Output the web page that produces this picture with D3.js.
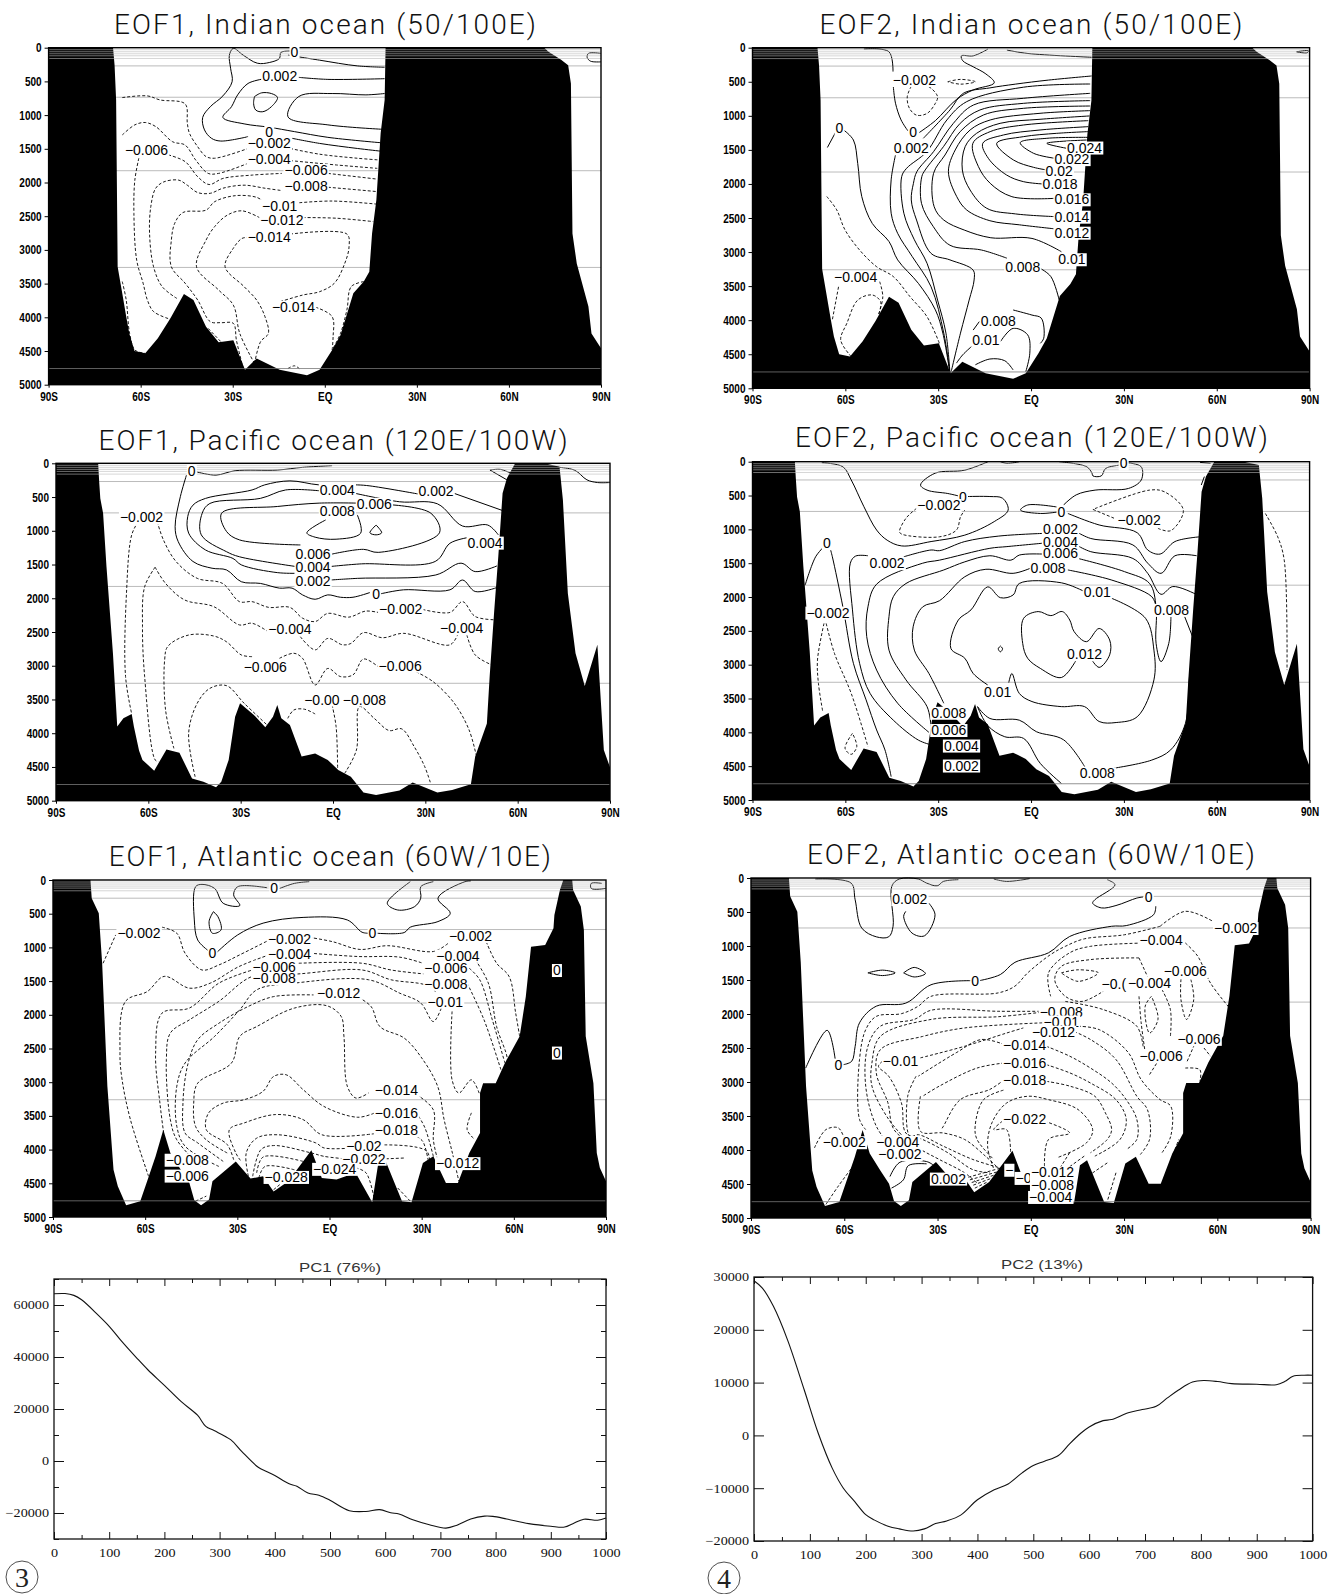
<!DOCTYPE html>
<html>
<head>
<meta charset="utf-8">
<script src="https://cdn.jsdelivr.net/npm/d3@7"></script>
<style>
  html, body { margin: 0; background: #fff; }
  svg { display: block; }
</style>
</head>
<body>
<svg id="chart" width="1342" height="1594"></svg>
<script>
// ocean floor along each section: [lat, depth]
var indianFloor = [[-90,0],[-69,0],[-68.5,260],[-68,775],[-67.5,3250],[-66,3645],[-64.7,3990],[-63.7,4240],[-62,4500],[-58.5,4535],[-54.4,4310],[-50.3,4015],[-45.9,3655],[-42.8,3745],[-38.7,4140],[-34.6,4370],[-29.8,4340],[-26,4780],[-22.2,4610],[-14.7,4780],[-5.8,4860],[-1.7,4780],[2.4,4485],[5.1,4265],[9.3,3645],[12.7,3470],[14.5,3325],[15.4,2755],[16.8,2260],[18.2,1270],[19.5,775],[19.8,0],[71.5,0],[72.9,60],[77,180],[79.3,260],[80.2,530],[80.7,2755],[82.1,3200],[85.9,3840],[86.9,4240],[90,4460]];
var pacificFloor = [[-90,0],[-76.3,0],[-76,250],[-75.6,520],[-74.7,740],[-73.6,1530],[-71.5,2815],[-70.1,3900],[-68.1,3780],[-65.4,3715],[-64.7,3900],[-63,4260],[-61.9,4395],[-58.1,4555],[-54.1,4240],[-49.9,4290],[-45.8,4670],[-42.1,4720],[-38,4800],[-36.3,4720],[-33.9,4395],[-31.8,3755],[-30.2,3555],[-25.7,3730],[-22,3910],[-19.5,3755],[-18.1,3580],[-16.8,3780],[-14,3880],[-10.2,4345],[-5.8,4300],[-1.7,4395],[1.7,4545],[5.8,4645],[9.9,4880],[14,4915],[21.6,4850],[25.9,4730],[33.9,4880],[38.7,4840],[44.8,4755],[46.2,4345],[50,3855],[50.9,3160],[52.4,2175],[53.7,1385],[55.1,445],[56.5,220],[59.2,0],[68.8,0],[73.6,50],[74.7,545],[76.3,1925],[78.8,2815],[81.8,3300],[85.9,2690],[88,4250],[90,4505]];
var atlanticFloor = [[-90,0],[-77.8,0],[-77.4,270],[-75.1,495],[-74,1235],[-72.3,3060],[-70.3,4300],[-68.9,4545],[-66.2,4825],[-61.6,4765],[-59,4420],[-56.6,4100],[-54.1,3705],[-51.8,4050],[-48.4,4300],[-45.6,4495],[-44,4750],[-41.8,4825],[-39.2,4740],[-38.1,4470],[-30.5,4175],[-25.7,4430],[-21.6,4395],[-18.2,4620],[-13.4,4470],[-5.9,4010],[-2.5,4420],[2.3,4445],[8.5,4345],[13.9,4780],[15.8,4225],[18.1,4150],[23.6,4765],[26.7,4780],[30.4,4200],[33.8,4100],[37.9,4495],[41.8,4495],[45.5,4050],[49,3755],[49,3160],[50,3015],[54.1,3015],[57.1,2715],[61.9,2320],[63.9,1730],[65.6,990],[70.2,965],[72.9,715],[73.2,520],[75,150],[76.1,0],[79,0],[79.3,150],[81.8,395],[82.8,740],[83.4,2320],[85.9,3015],[87,4050],[88,4270],[90,4470]];

// contours: Pos are the solid ones (zero and above), Neg the dashed ones
var indianEof1Pos = [
  [[-11.3,50],[-14.3,70],[-14.8,160],[-18.1,220],[-22,230],[-26.6,110],[-29.8,10],[-31.1,110],[-30.7,305],[-30.2,505],[-33.2,715],[-37.3,875],[-39.8,1035],[-39.2,1220],[-36.9,1345],[-33.9,1385],[-25,1320]],
  [[-10.6,1345],[-1.7,1420],[10.6,1495],[18.2,1535]],
  [[-12,110],[-1.7,185],[10.6,270],[19.5,290]],
  [[-20.2,465],[-25,530],[-28.4,700],[-30.4,875],[-33.2,1035],[-26.3,1130],[-18.1,1180],[-9.9,1245],[1,1330],[18.2,1410]],
  [[-8.5,440],[1,470],[19.5,460]],
  [[19.5,680],[13.4,700],[2.4,680],[-8.5,725],[-12,1025],[1,1145],[18.6,1210]],
  [[-22.9,725],[-20.6,670],[-17.4,680],[-15.4,740],[-17.4,875],[-20.2,950],[-22.5,925],[-23.2,825],[-22.9,725]],
  [[90,85],[85.9,85],[85.5,145],[86.6,200],[90,210]]
];
var indianEof1Neg = [
  [[-66,740],[-57.8,715],[-53.7,775],[-45.5,835],[-44.8,1120],[-44.1,1270],[-41.4,1470],[-38.7,1615],[-35.9,1640],[-25,1495]],
  [[-11.3,1495],[-1.7,1580],[10.6,1640],[17.5,1665]],
  [[-66,1295],[-61.9,1145],[-58.5,1110],[-55.1,1170],[-49.6,1395],[-45.5,1445],[-42.1,1665],[-38,1865],[-34.6,1865],[-25,1715]],
  [[-11.3,1675],[3.8,1740],[17.1,1790]],
  [[-51,1590],[-45.5,1690],[-41.4,1915],[-37.7,2030],[-33.2,1940],[-23.6,1890],[-14,1865]],
  [[1,1865],[17.1,1950]],
  [[-60.6,1640],[-61.9,1965],[-62.2,2460],[-61.3,3150],[-59.2,3495],[-57.8,3745],[-55.8,3915],[-50.3,4030]],
  [[-48.2,3720],[-53,3545],[-55.8,3250],[-57.1,2755],[-56.7,2360],[-55.1,2085],[-52.4,1990],[-47.6,1965],[-44.8,2040],[-41.4,2150],[-37.3,2160],[-33.2,2085],[-26.3,2040],[-19.5,2085],[-14,2120]],
  [[1,2070],[17.1,2135]],
  [[-26.6,4760],[-28.8,4340],[-29.8,4090],[-33.9,4080],[-37.3,4065],[-41.4,3745],[-45.5,3495],[-50,3250],[-50,2855],[-48.9,2605],[-46.2,2445],[-38.7,2410],[-35.9,2285],[-29.1,2195],[-22.2,2220],[-19.8,2285]],
  [[-8.3,2300],[2.4,2275],[16.8,2320]],
  [[-22.9,4685],[-27.7,4240],[-29.8,3820],[-34.6,3595],[-41.8,3250],[-38.7,2855],[-35.9,2655],[-31.8,2485],[-27,2420],[-20.9,2530]],
  [[-7.2,2520],[3.8,2530],[15.8,2580]],
  [[-22.9,4685],[-20.9,4360],[-18.4,4240],[-19.5,3990],[-22.2,3745],[-26.3,3545],[-32.5,3250],[-29.8,2975],[-27,2830],[-25,2815]],
  [[-11.3,2765],[7.2,2765],[7.9,2955],[6.5,3200],[3.1,3495],[-1.7,3620],[-7.2,3670],[-14.7,3770]],
  [[-3,3850],[2.4,3990],[2.7,4290],[2.4,4485]],
  [[-66,3470],[-64.7,3745],[-63.6,4240],[-61.9,4485],[-58.5,4535]],
  [[12.7,3470],[8.6,3545],[7.2,3890],[5.1,4240],[2.4,4485]],
  [[-12,4760],[-9.9,4720],[-8.3,4760]],
  [[-38,4165],[-33.9,4360]]
];
var indianEof1Labels = [["0",-9.9,60],["0.002",-14.7,420],["0",-18.1,1250],["-0.002",-18.1,1420],["-0.004",-18.1,1645],["-0.006",-6.1,1815],["-0.008",-6.1,2050],["-0.01",-14.7,2345],["-0.012",-14,2555],["-0.014",-18.1,2815],["-0.014",-10.2,3845],["-0.006",-58.1,1520]];

var indianEof2Pos = [
  [[-54,20],[-45.9,60],[-44.6,350]],
  [[-44.5,570],[-43.8,815],[-42,1060],[-39.8,1220]],
  [[-36.1,1245],[-30.9,1070],[-24.1,760],[-18.7,620],[-11.9,515],[-14.6,385],[-18.7,280],[-22.1,190],[-22.5,120],[-18.7,120],[-13.9,20]],
  [[-7.8,35],[-1,85],[19.6,140]],
  [[-65.8,1465],[-63.2,1245]],
  [[-60.5,1210],[-57.4,1355],[-56,1700],[-54.7,2185],[-51.3,2580],[-45.9,2845],[-43.1,3115],[-36.4,3460],[-30.9,3850],[-28.5,4190],[-26.2,4780]],
  [[19.6,415],[5.7,475],[-5.1,535],[-13.3,590],[-21.9,670],[-26.2,914],[-34.8,1330]],
  [[-43.8,1575],[-45.2,1940],[-45.2,2430],[-43.1,2725],[-38.4,3065],[-32.3,3510],[-28.2,4190],[-26.2,4780]],
  [[19.1,533],[-2.5,580],[-20.8,792],[-27.2,1061],[-33.7,1526],[-40.2,1770],[-41.8,1893],[-41.1,2430],[-37.7,2820],[-33.6,3165],[-30.2,3705],[-27.5,4190],[-26.2,4780]],
  [[19.1,670],[-2.5,743],[-18.6,841],[-25.1,1110],[-31.5,1526],[-36.9,1820],[-38,1991],[-38.7,2235],[-37,2530],[-32.3,3020],[-26.2,3115],[-18.7,3265],[-18.4,3410],[-20,3705],[-22.8,4190],[-25.8,4755]],
  [[19.1,777],[-2.5,817],[-16.5,914],[-22.9,1110],[-28.3,1453],[-34.2,1795],[-35.3,1893],[-35.4,2285],[-31.6,2625],[-26.2,2900],[-16,2970],[-7.8,3090]],
  [[3,3240],[6.4,3360],[9.1,3705]],
  [[19.1,856],[-2.5,890],[-15.4,988],[-22.9,1232],[-27.8,1575],[-31.5,1844],[-31.3,2335],[-28.2,2530],[-21.4,2680],[-13,2790],[0.3,2800],[9.8,2995]],
  [[19.1,924],[2.9,963],[-13.2,1061],[-19.7,1208],[-24.5,1501],[-26.7,1820],[-24,2187],[-20.8,2382],[-13.3,2540],[-3.8,2600],[7.8,2660]],
  [[18.9,1002],[2.9,1051],[-10,1110],[-17.6,1257],[-21.3,1453],[-22.2,1795],[-19.7,2089],[-14.3,2358],[-5,2440],[7.8,2480]],
  [[18.5,1071],[-2.5,1135],[-13.2,1232],[-18.8,1404],[-17,1746],[-13.2,1991],[-6.2,2187],[7.8,2211]],
  [[18.5,1159],[2.9,1208],[-8.9,1281],[-15.6,1404],[-13.8,1624],[-7.9,1869],[-2.5,1966],[4,2001]],
  [[18.5,1232],[8.3,1257],[-2.5,1306],[-11.1,1404],[-5.7,1648],[0.8,1756],[5.1,1795]],
  [[18.5,1316],[5.1,1330],[-3.5,1394],[0.8,1550],[7.8,1624]],
  [[18,1355],[5.1,1404],[11.5,1477]],
  [[-16.7,4020],[-18.7,4145]],
  [[-18.7,4365],[-22.1,4510],[-24.1,4630]],
  [[-5.8,3850],[0.3,3925],[3.3,3970],[4.1,4265],[3,4340]],
  [[-9.9,4315],[-5.8,4120],[-1.1,4215],[-0.4,4485],[-1.7,4755]],
  [[-18,4655],[-13.3,4570],[-8.5,4595],[-5.8,4730]],
  [[85.8,60],[89.6,45],[89.2,75],[85.8,60]]
];
var indianEof2Neg = [
  [[-38.7,565],[-40,720],[-39.3,890],[-37,990],[-33.6,965],[-30.9,815],[-30.2,720],[-32.3,595],[-34.3,550]],
  [[-26.9,500],[-22.8,465],[-18,500],[-22.8,535],[-26.9,500]],
  [[-66,2185],[-62.8,2380],[-60.1,2675],[-55.4,2970],[-49.9,3215],[-44.5,3360],[-39.1,3655],[-33.6,3950],[-29.6,4340]],
  [[-62.2,3510],[-64.2,3995]],
  [[-48.9,3435],[-47.9,3655],[-49.3,3925]],
  [[-58.1,4535],[-61.5,4290],[-59.5,4045],[-56,3705],[-51.3,3630],[-48.6,3730],[-49.3,3925]]
];
var indianEof2Labels = [["-0.002",-37.7,475],["0",-38.1,1240],["0",-61.9,1185],["0.002",-38.7,1475],["0.024",17.3,1465],["0.022",13.2,1635],["0.02",9.1,1805],["0.018",9.4,2005],["0.016",13.2,2225],["0.014",13.2,2480],["0.012",13.2,2715],["0.01",13.2,3105],["0.008",-2.7,3225],["-0.004",-56.7,3370],["0.008",-10.6,4005],["0.01",-14.6,4290]];

var pacificEof1Pos = [
  [[-44.1,130],[-38,175],[-31.8,110],[-18.1,100],[-9.9,60],[-0.3,35]],
  [[-47.6,175],[-49.6,495],[-51.3,940],[-50.3,1160],[-45.5,1455],[-39.3,1555],[-34.6,1580],[-29.8,1755],[-23.6,1780],[-17.4,1850],[-13.3,1850],[-9.9,1950],[-5.8,2015],[-1.7,1950],[2.4,1985],[6.5,1985],[12,1915]],
  [[15.4,1935],[22.9,1875],[38,1875],[42.1,1730],[46.2,1900],[53.3,1840]],
  [[-12,1630],[-18.1,1620],[-29.8,1505],[-32.5,1410],[-41.4,1285],[-46.9,1035],[-47.2,790],[-45.5,620],[-41.4,520],[-26.3,395],[-22.2,320],[-14,260],[-4.5,320],[7.9,320],[12,335],[27.7,455]],
  [[38.7,435],[55.1,700]],
  [[-1,1730],[7.9,1705],[33.4,1655],[41.6,1480],[46.2,1605],[53.3,1520]],
  [[-12,1530],[-30.4,1385],[-34.6,1310],[-42.8,1060],[-42.5,740],[-40,595],[-23.6,520],[-15.4,395],[-3.8,410]],
  [[7.2,445],[21.6,570],[33.9,600],[42.1,930],[50.3,915],[53.7,1060]],
  [[-1,1530],[9.3,1490],[33.2,1455],[38,1185],[43.9,1100]],
  [[-10.6,1210],[-30.4,1135],[-34.6,1010],[-36.2,740],[-18.1,640],[-4.5,590],[7.9,590]],
  [[18.8,615],[31.8,740],[34.6,1030],[14.7,1320],[9.9,1275],[-0.3,1345]],
  [[-2.4,840],[-8.5,1030],[-5.8,1095],[1,1125],[9,1035],[7.9,765]],
  [[14,915],[12,1030],[14,1060],[15.8,1030],[14,915]],
  [[51,100],[54.4,90],[57.9,150]],
  [[51,100],[56.5,245]],
  [[70.2,50],[78.4,100],[82.5,245],[85.9,285],[90,285]]
];
var pacificEof1Neg = [
  [[-57.1,865],[-55.1,1135],[-51,1455],[-44.1,1705],[-35.9,1780],[-30.4,2050],[-26.3,2050],[-20.9,2135],[-14,2135],[-9.9,2295],[-5.8,2345],[-1.7,2225],[5.1,2280],[10.6,2190],[14.7,2210]],
  [[29.1,2165],[38,2210],[42.1,2050],[46.2,2270],[53.1,2320]],
  [[-63.3,865],[-65.4,1060],[-67.1,1925],[-67.4,3160],[-65.4,3715]],
  [[-57.8,1540],[-61.2,1830],[-61.9,2420],[-61.2,3160],[-57.8,4395],[-56.7,4420]],
  [[-57.8,1540],[-54.4,1780],[-48.2,2025],[-38.7,2125],[-30.4,2395],[-26.3,2370],[-21.6,2480]],
  [[-10.6,2570],[-5.8,2765],[-1.7,2595],[3.1,2690],[5.8,2670],[9.9,2510],[16.1,2585],[23,2520],[38,2690],[40.7,2520]],
  [[43.5,2545],[46.2,2840],[51.7,2990]],
  [[-26.3,2865],[-29.8,2840],[-34.6,2645],[-38.7,2560],[-46.9,2545],[-53.7,2715],[-54.7,2915],[-54.4,3655],[-51.7,4225]],
  [[-17.4,2890],[-12.7,2815],[-9.9,2890],[-5.8,3285],[-1.7,3040],[2.4,3160],[6.5,3135],[9.9,2900],[14.7,3015]],
  [[27,3090],[32.5,3235],[39.4,3555],[44.2,3950],[46.5,4320]],
  [[-44.8,4645],[-46.9,4000],[-44.1,3555],[-40,3335],[-34.6,3295],[-28.9,3555],[-20.9,3900]],
  [[-14.7,3780],[-12.7,3655],[-9.2,3645],[-5.8,3715]],
  [[-0.3,3580],[1,3900],[1.5,4520]],
  [[3.8,4595],[7.6,4250],[8.6,3605],[13.4,3780],[18.2,3960],[22.3,3935],[26.4,4200],[29.8,4495],[31.8,4755]]
];
var pacificEof1Labels = [["0",-45.9,110],["0.004",1.4,395],["0.002",33.5,410],["0.006",13.4,600],["0.008",1.4,700],["-0.002",-62.2,800],["0.004",49.4,1175],["0.006",-6.5,1350],["0.004",-6.5,1540],["0.002",-6.5,1745],["0",14,1940],["-0.002",22,2165],["-0.004",-14,2450],["-0.004",41.8,2445],["-0.006",-22,3025],["-0.006",21.8,3000],["-0.00",-3.6,3500],["-0.008",10.2,3500]];

var pacificEof2Pos = [
  [[-67.6,15],[-60.8,75],[-58.1,270],[-54,665],[-49.9,1010],[-46.5,1160],[-41.8,1245],[-32.3,1180],[-21.4,1085],[-11.9,885],[-7.4,715],[-9.2,540],[-13.3,515],[-20.7,515]],
  [[-23.5,505],[-26.9,470],[-33.6,420],[-35.7,345],[-31,170],[-21.4,125],[-13.9,0]],
  [[-9.9,0],[-7.8,25],[-3.8,0]],
  [[9.1,675],[-1.1,640],[-3.4,715],[3,765],[9.1,740]],
  [[9.1,0],[18,75],[19.7,170],[20,210],[22.7,210],[24.1,100],[28.8,50]],
  [[30.9,15],[35.6,75],[35.6,270],[31.5,395],[20.7,420],[14.6,490],[10.5,640]],
  [[11.9,765],[22,935],[34.3,1050],[37.7,1305],[41.7,1365],[46.5,1180],[54.6,1110]],
  [[-73,1825],[-69.6,1405],[-66.9,1255]],
  [[-64.9,1280],[-64.2,1405],[-60.8,2145],[-57.4,2980],[-53.3,3520],[-49.9,3965],[-47.2,4260],[-45.2,4655]],
  [[-52.7,1390],[-56.7,1395],[-58.4,1500],[-57.7,2190],[-55.4,2980],[-52,3425],[-44.5,3820],[-36.4,4115],[-32.3,4185]],
  [[-41.1,1405],[-32.3,1305],[-29.6,1315],[-21.4,1180],[-10.6,1100],[3.7,1060]],
  [[15.2,1050],[19.3,1135],[32.9,1230],[37.7,1500],[42,1650],[46.5,1390],[53.5,1390]],
  [[3.7,1205],[-7.8,1255],[-13.3,1280],[-29.6,1455],[-35,1500],[-49.9,1810],[-52.7,2145],[-53.1,2585],[-49.9,3080],[-43.1,3570],[-33,4000]],
  [[15.2,1245],[19.3,1330],[32.9,1430],[37.7,1650],[42,1960],[45.8,1845],[53.3,1960]],
  [[3.7,1365],[-3.8,1380],[-6.5,1455],[-13.3,1390],[-21.4,1480],[-28.2,1600],[-40.4,1800],[-44.5,1995],[-45.9,2290],[-45.9,2785],[-40.4,3225],[-33.6,3620],[-32.3,3915]],
  [[15.2,1430],[30.2,1625],[38.3,1800],[40.4,2145],[40.4,2685],[42,2955],[44.5,2685],[45.2,2290]],
  [[0.3,1565],[-5.8,1650],[-14.6,1590],[-21.4,1700],[-29.6,2055],[-35,2145],[-38.1,2440],[-37.7,2785],[-33,3130],[-28.2,3570]],
  [[11.9,1600],[26.1,1750],[39,1995],[40.4,2145]],
  [[49.2,2240],[52.6,2635]],
  [[26.8,4530],[39,4410],[45.1,4260],[49.9,3865],[51.2,3175],[52.6,2635]],
  [[-17.3,3620],[-13.3,3795],[-3.8,3820],[1.7,3990],[10.5,4110],[17.3,4505]],
  [[-17.3,3620],[-14,3900],[-8.5,4065],[-2.4,4090],[3,4460],[9.8,4755]],
  [[-14,3300],[-18.7,3130],[-21.4,2905],[-25.9,2760],[-23.5,2340],[-19.4,2190],[-14,1850],[-9.9,2010],[-5.8,1970],[-3.8,1800],[9.8,1790],[17.3,1920]],
  [[26.1,2020],[37,2315],[39.7,2785],[39.7,3225],[34.3,3770],[27.5,3855],[22,3840],[17.3,3620],[9.8,3620],[0.3,3545],[-3.8,3425],[-6.2,3130],[-7.2,3265]],
  [[19.3,2905],[22,3040],[25.4,2855],[25.4,2635],[22,2465],[17.9,2660],[13.9,2510],[12.5,2340],[10.1,2215],[6.4,2275],[2.3,2215],[-2.4,2315],[-2.7,2685],[-1.1,2905],[3,3055],[9.8,3190],[14.6,2930]],
  [[-9.9,2725],[-9.2,2765],[-9.9,2810],[-10.6,2765],[-9.9,2725]],
  [[54.6,10],[58,25]],
  [[56,220],[55,345]]
];
var pacificEof2Neg = [
  [[-37,690],[-40.4,835],[-42.5,1035],[-41.8,1070],[-29.6,1110],[-24.1,1010],[-22.8,815],[-21.4,715]],
  [[20,705],[26.8,835]],
  [[41,985],[45.1,1020],[49.2,715],[43.1,445],[38.3,420],[20,705]],
  [[-66.9,2390],[-69,2930],[-68.7,3275],[-67.3,3695]],
  [[-66.2,2390],[-63.5,2835],[-58.1,3425],[-52.7,4210]],
  [[-57.7,4015],[-60.1,4235],[-58.1,4325],[-56.3,4210],[-57.7,4015]],
  [[75.7,765],[79.7,1110],[81.8,1455],[82.7,3080]]
];
var pacificEof2Labels = [["0",-22,515],["-0.002",-29.8,640],["0",9.8,740],["-0.002",34.9,860],["0",29.9,25],["0",-66,1205],["0.002",9.5,1000],["0.004",9.5,1180],["0.006",9.5,1355],["0.008",5.5,1565],["0.002",-46.5,1500],["0.01",21.4,1920],["-0.002",-65.6,2230],["0.008",45.4,2190],["0.012",17.3,2845],["0.01",-10.8,3400],["0.008",-26.6,3710],["0.006",-26.6,3965],["0.004",-22.5,4195],["0.002",-22.5,4490],["0.008",21.4,4605]];

var atlanticEof1Pos = [
  [[-39.5,1047],[-42.9,890],[-44,593],[-43.6,100],[-41.5,65],[-37.4,125],[-34.6,345],[-29.2,380],[-31.2,220],[-29.9,100],[-20.3,115]],
  [[-16.2,125],[-11.4,50],[-6.6,25]],
  [[-36.7,1075],[-29.9,815],[-21.6,640],[-8.6,555],[5.8,593],[10.6,775],[13,790]],
  [[15.4,790],[24.3,780],[26.3,700],[35.3,617],[39.3,495],[35.3,270],[44.1,25],[46,15]],
  [[26.3,25],[18.8,345],[22.2,445],[27.7,395],[29.7,270],[29.7,100],[33.8,25]],
  [[-37.8,470],[-39.2,617],[-38.1,790],[-35.3,740],[-36.3,545],[-37.8,470]],
  [[88.6,50],[85.2,50],[85.2,125],[90,125]]
];
var atlanticEof1Neg = [
  [[-73.7,1235],[-69.6,815]],
  [[-54.5,700],[-49.7,790],[-47,1087],[-41.5,1335],[-36,1260],[-29.2,1110],[-19.6,890]],
  [[-6.6,850],[1,915],[9.9,1030],[18.8,975],[33.9,1060],[38.6,940]],
  [[51,915],[54.4,1235],[58.5,1435],[60.6,1975],[61.9,2320]],
  [[-58.9,4395],[-64.8,3555],[-67.5,2965],[-68.2,2570],[-66.4,1800],[-59.3,1655],[-53.8,1430],[-45.6,1605],[-38.8,1530],[-29.5,1285],[-19.6,1110]],
  [[-6.6,1085],[9.2,1135],[22.9,1145],[30.4,1235]],
  [[47.5,1185],[51.7,1530],[54.4,2175],[57.9,2665],[57.1,2865]],
  [[-53.1,4050],[-55.2,3310],[-56.6,2570],[-54.5,1975],[-45.6,1900],[-36,1530],[-25.1,1335]],
  [[-10,1235],[10.6,1235],[20,1335],[31.1,1395]],
  [[45.5,1310],[48.9,1480],[53,2075],[57.1,2715]],
  [[-42,4250],[-49.7,3855],[-51.8,3555],[-53.1,2665],[-51.8,2270],[-45.6,2075],[-36,1800],[-25.1,1430],[-10.7,1395],[10.6,1335],[20,1480],[31.1,1555],[34.5,1655]],
  [[44.8,1530],[50.3,2075],[55.8,2815]],
  [[-36,4250],[-47,3950],[-49.7,3655],[-49.7,3060],[-47,2715],[-37.4,2320],[-29.2,1925],[-23.7,1630],[-11.4,1530],[12.7,1480],[22.9,1680],[29.7,1825],[33.8,2100],[36.6,1875]],
  [[39.9,1950],[39.9,2965],[42.1,3160],[46.2,2965],[48.9,3185]],
  [[-34.6,4175],[-42.9,3900],[-47,3755],[-47.7,3310],[-46,2715],[-42.9,2370],[-36,2125],[-26.4,1875],[-18.2,1730],[-5.2,1705]],
  [[8,1705],[13.5,1875],[16.4,2175],[24.3,2345],[29.7,2620],[35.2,3060],[37.3,3555],[40,4050],[42.1,4470]],
  [[-33.3,4050],[-40.1,3855],[-43.6,3655],[-44.2,3310],[-42.9,3015],[-31.9,2715],[-29.2,2320],[-23.7,2175],[-11.4,1900],[-0.9,1865],[3.8,2025],[4.7,2320],[5.8,3060],[8.6,3235],[12.7,3160]],
  [[28.4,3185],[33.8,3410],[33.8,3855],[35.2,4150]],
  [[-31.2,4150],[-33.3,3925],[-40.1,3705],[-39.4,3460],[-34.6,3310],[-27.8,3260],[-21.6,3135],[-18.2,2915],[-14.1,2890],[-8.6,3110],[-1.8,3360],[9.2,3520],[14.5,3460]],
  [[29,3505],[31.1,3680],[33.8,4100]],
  [[-29,4160],[-30.5,4050],[-32.6,3705],[-27.8,3605],[-17.5,3480],[-8.6,3555],[-2.5,3780],[14.5,3765]],
  [[28.4,3805],[30.4,3880],[32.2,4175]],
  [[-26.4,4395],[-27.1,4050],[-23.7,3830],[-16.8,3780],[-4.5,3900],[-1.8,3975],[7.9,3975]],
  [[17.9,3930],[31.7,4025],[32.4,4345]],
  [[-25,4395],[-22.3,4000],[-18.2,3940],[-5.9,4050],[-1.8,4100],[5.8,4140]],
  [[16.7,4140],[24.3,4125]],
  [[-23.7,4345],[-21.6,4110],[-8.6,4175]],
  [[8.5,4270],[11.9,4345],[14.7,4765]],
  [[-23,4420],[-21,4250],[-11.4,4300]],
  [[-18.2,4595],[-16.2,4520]],
  [[-43.6,4765],[-40.1,4690]],
  [[22.2,4570],[26.3,4765]],
  [[46.2,3455],[44.8,3705],[47.3,3850]]
];
var atlanticEof1Labels = [["-0.002",-62,780],["0",-18,125],["0",14,790],["0",-38.1,1085],["-0.002",-13,880],["-0.002",45.9,830],["-0.004",-13,1100],["-0.004",41.8,1120],["-0.006",-18,1285],["-0.006",37.9,1310],["-0.008",-18,1455],["-0.008",37.9,1540],["-0.012",3,1680],["-0.01",37.7,1805],["-0.014",21.8,3120],["-0.016",21.8,3450],["-0.018",21.8,3715],["-0.02",11.2,3950],["-0.022",11.2,4135],["-0.024",1.7,4285],["-0.028",-14.1,4405],["-0.012",41.7,4200],["-0.008",-46.3,4150],["-0.006",-46.3,4385],["0",74,1335],["0",74,2560]];

var atlanticEof2Pos = [
  [[-69.3,15],[-57.8,75],[-56.5,320],[-54.4,735],[-49.7,865],[-45.7,865],[-44.3,710],[-44.7,120],[-42.3,15],[-36.2,15],[-33.5,75],[-30.1,115],[-28.1,50],[-23.3,25]],
  [[-11.9,15],[-7.8,50],[-0.4,10]],
  [[24.6,25],[27.1,100],[20.6,320],[19.9,370],[22.7,440],[27.4,405],[34.1,295],[36.1,280]],
  [[-40.2,490],[-40.9,565],[-38.2,810],[-34.2,850],[-30.8,540],[-32.8,370]],
  [[-52.4,1395],[-47.7,1355],[-43.6,1395],[-47.7,1435],[-52.4,1395]],
  [[-40.9,1395],[-37.5,1315],[-33.9,1405],[-37.5,1455],[-40.9,1395]],
  [[-72.4,2795],[-65.5,2240],[-62.9,2670]],
  [[-60.3,2745],[-57.6,2695],[-56.5,2475],[-55.1,2130],[-49.7,1885],[-40.2,1840],[-32.1,1570],[-19.3,1510]],
  [[-16.6,1510],[-9.8,1420],[-5.1,1240],[5.7,1100],[12.5,860],[26,710],[30.7,700],[39.5,540],[40.2,415]],
  [[-45.3,4390],[-42.1,4180],[-33.5,4170],[-31.4,4220]],
  [[-44.8,4560],[-41,4440],[-39.4,4230],[-33.5,4204]]
];
var atlanticEof2Neg = [
  [[41.6,710],[30.1,835],[17.2,895],[11.1,1005],[6.4,1125],[-1,1395],[-5.1,1590],[-10.5,1690],[-32.1,1740],[-36.2,1885],[-41.6,1995],[-49.7,2035],[-53.1,2230],[-55.1,2670],[-55.1,3550],[-53.1,3700]],
  [[41.6,710],[49.7,490],[58.5,635]],
  [[37.5,955],[19.2,1005],[12.5,1100],[5.7,1395],[6.4,1740]],
  [[3,1960],[-10.5,1960],[-32.1,1945],[-37.5,2080],[-48.4,2180],[-52.4,2475],[-53.1,3060],[-49.7,3650],[-44.3,3995]],
  [[34.8,1175],[19.2,1200],[9.8,1300],[7.7,1495],[11.1,1740],[16.5,1815],[23.3,1665]],
  [[34.8,1175],[37.5,1445]],
  [[9.8,1395],[15.2,1350],[21.7,1395],[15.2,1520],[9.8,1395]],
  [[3.3,1975],[-10.5,2040],[-32.1,2080],[-48.4,2330],[-51.1,2720],[-51.1,3060],[-45.7,3550],[-40.2,3845]],
  [[11.1,1815],[23.3,1935],[34.1,2180],[36.1,2475]],
  [[15.2,2180],[22,2230],[31.4,2570],[35.5,2965],[41.6,3260],[45,3355],[45,3800],[42.2,4040]],
  [[12.5,2230],[19.2,2375],[27.4,2670],[34.1,3210],[37.5,3405],[38.2,3845],[34.8,4090]],
  [[5,2475],[12.5,2620],[19.2,2795],[26,3015],[30.7,3260],[34.1,3550],[34.1,3845],[30.7,3995]],
  [[5,2745],[12.5,2865],[19.2,3015],[27.4,3260],[30.7,3550],[28.7,3845],[20.6,4090]],
  [[5,2990],[12.5,3060],[20.6,3210],[24,3455],[26,3700],[24.6,3845],[19.2,4040]],
  [[-12,4265],[-13.9,3945],[-12.5,3600],[-7.8,3310],[-1,3210],[5.7,3260],[15.2,3405],[19.9,3700],[17.9,3895],[8.4,4115]],
  [[4.4,3575],[12.5,3750],[5.7,3845],[4.4,4240]],
  [[-9.1,3575],[-11.9,3700],[-7.8,3700],[-6.5,4040]],
  [[-35.5,2645],[-21.3,2475],[-7.8,2280],[-2.4,2205]],
  [[-36.9,2915],[-39.6,3210],[-38.9,3800],[-36.2,3775],[-28.1,3945],[-18.6,4140],[-9.8,4265]],
  [[-47.7,2695],[-49,2770],[-45.7,2915],[-41.6,3310],[-40.2,3750],[-34.8,3845],[-26.7,4040],[-18.6,4290],[-13.2,4335]],
  [[3.7,2130],[-21.3,2205],[-34.8,2330],[-48.4,2525],[-49.7,2865],[-46,3300],[-44,3700],[-36.2,3970],[-29.4,4140],[-21.3,4335],[-17.3,4485]],
  [[-35.5,3210],[-35.5,3725],[-28.1,3750],[-21.3,3845],[-14.6,4090],[-10.5,4265]],
  [[-8.5,2450],[-15.9,2375],[-24,2570],[-36.2,2915]],
  [[-8.5,2720],[-17.3,2795],[-29.4,3060],[-34.8,3210]],
  [[-8.5,2965],[-13.2,3110],[-22.7,3260],[-28.1,3650],[-28.8,3700]],
  [[-8.8,3120],[-15.2,3260],[-17.9,3650],[-17.3,3845],[-11.9,4140]],
  [[49.7,955],[53.7,1150],[57.8,1545],[63.9,1910]],
  [[48.3,1490],[48.3,1790],[50.1,2080],[52.4,1790],[51.5,1495]],
  [[42.2,1640],[44.9,1935],[44.9,2330]],
  [[38.8,1740],[36.8,1885],[38.2,2280],[40.9,2080],[39.5,1815],[38.8,1740]],
  [[34.8,1740],[35.5,2130],[36.8,2570]],
  [[38.2,2890],[40.9,2695]],
  [[50.3,2695],[52.4,2475]],
  [[55.7,2500],[57.8,2620]],
  [[49.7,2795],[54.4,2820],[54.4,2990]],
  [[-69.6,3970],[-65.9,3700],[-61.9,3675],[-59.9,3845]],
  [[-65.9,4800],[-61.9,4530],[-57.2,4240]],
  [[42.9,4485],[45.6,4090],[47.6,3845]],
  [[12.5,4040],[8.4,4335]],
  [[17.2,4090],[9.8,4335]],
  [[24.6,4190],[15.9,4460]],
  [[27.4,4335],[24.6,4755]],
  [[30,4530],[27.4,4755]],
  [[-20.1,4400],[-9.9,4268]],
  [[-19.6,4439],[-10.4,4316]],
  [[-19,4478],[-11.5,4365]],
  [[-18.5,4517],[-12.6,4415]],
  [[-18,4561],[-13.7,4464]]
];
var atlanticEof2Labels = [["0.002",-38.9,310],["0",37.9,285],["-0.002",65.9,735],["-0.004",41.9,905],["-0.006",49.7,1370],["0",-17.9,1510],["-0.(",26.7,1560],["-0.004",38.2,1545],["-0.008",9.8,1975],["-0.01",9.8,2110],["-0.012",7.3,2260],["-0.014",-2,2450],["-0.006",54.1,2365],["-0.006",41.9,2610],["-0.01",-41.9,2695],["0",-61.9,2745],["-0.016",-2,2720],["-0.018",-2,2965],["-0.022",-2,3540],["-0.002",-60,3885],["-0.004",-42.8,3880],["-0.002",-42.1,4060],["0.002",-26.5,4420],["-",-6.9,4290],["-0.",-1.7,4410],["-0.012",7,4330],["-0.008",7,4510],["-0.004",6.4,4690]];

// principal components: [time, value]
var pc1Values = [[0,64300],[20,64400],[36,63700],[50,62000],[80,56100],[100,51800],[120,46700],[150,39600],[170,35100],[200,29100],[230,22900],[260,17600],[275,13300],[290,11700],[320,8200],[340,3700],[370,-2400],[385,-4000],[400,-5600],[425,-8700],[440,-9700],[460,-12300],[480,-13200],[500,-15100],[535,-19100],[565,-19400],[590,-18700],[610,-19900],[625,-20400],[650,-22600],[680,-24500],[710,-25800],[730,-24700],[755,-22300],[780,-21200],[795,-21300],[820,-22300],[860,-24100],[900,-25100],[925,-25400],[940,-24100],[960,-22400],[985,-22800],[1000,-21900]];
var pc2Values = [[0,29300],[15,27900],[35,24400],[60,18100],[90,8600],[115,400],[140,-6200],[160,-10000],[180,-12500],[200,-15000],[215,-16000],[240,-17200],[260,-17700],[285,-18100],[305,-17700],[325,-16700],[345,-16200],[370,-15100],[400,-12200],[430,-10300],[455,-9200],[480,-7100],[500,-5700],[520,-4900],[545,-3800],[565,-1600],[585,400],[600,1600],[625,2800],[640,3000],[670,4300],[695,4900],[720,5500],[740,7100],[760,8600],[785,10100],[805,10400],[830,10200],[855,9800],[900,9700],[935,9600],[950,10200],[965,11200],[985,11400],[1000,11400]];

var latTicks = [-90,-60,-30,0,30,60,90];
var depthTicks = [0,500,1000,1500,2000,2500,3000,3500,4000,4500,5000];
var scanDepthsUnder = [270,735,1825,3260];
var scanDepthsOver = [30,60,90,120,160];
var scanDepthBottom = 4760;

var svg = d3.select('#chart');
var sansFont = '"Liberation Sans", sans-serif';
var serifFont = '"Liberation Serif", serif';

function latLabel(d) {
  if (d === 0) { return 'EQ'; }
  return Math.abs(d) + (d < 0 ? 'S' : 'N');
}

// the source fonts are wider or narrower than ours, so rescale the glyphs horizontally
function stretch(sel, k) {
  sel.each(function() {
    d3.select(this)
      .attr('textLength', this.getComputedTextLength() * k)
      .attr('lengthAdjust', 'spacingAndGlyphs');
  });
}

function drawSection(opt) {
  var x = d3.scaleLinear().domain([-90, 90]).range([opt.left, opt.right]);
  var y = d3.scaleLinear().domain([0, 5000]).range([opt.top, opt.bottom]);
  var line = d3.line()
    .x(function(d) { return x(d[0]); })
    .y(function(d) { return y(d[1]); })
    .curve(d3.curveCatmullRom.alpha(0.5));
  var g = svg.append('g');

  g.selectAll('.scan-under').data(scanDepthsUnder).enter().append('line')
    .attr('x1', opt.left).attr('x2', opt.right)
    .attr('y1', function(d) { return y(d); }).attr('y2', function(d) { return y(d); })
    .attr('stroke', '#bbb').attr('stroke-width', 1);

  g.selectAll('.pos').data(opt.pos).enter().append('path')
    .attr('d', line).attr('fill', 'none').attr('stroke', '#000').attr('stroke-width', 1);
  g.selectAll('.neg').data(opt.neg).enter().append('path')
    .attr('d', line).attr('fill', 'none').attr('stroke', '#000').attr('stroke-width', 0.9)
    .attr('stroke-dasharray', '3,2');

  var floor = d3.area()
    .x(function(d) { return x(d[0]); })
    .y0(y(5000))
    .y1(function(d) { return y(d[1]); });
  g.append('path').datum(opt.floor).attr('d', floor).attr('fill', '#000');

  g.selectAll('.scan-over').data(scanDepthsOver).enter().append('line')
    .attr('x1', opt.left).attr('x2', opt.right)
    .attr('y1', function(d) { return y(d); }).attr('y2', function(d) { return y(d); })
    .attr('stroke', '#bbb').attr('stroke-width', 0.6);
  g.append('line')
    .attr('x1', opt.left).attr('x2', opt.right)
    .attr('y1', y(scanDepthBottom)).attr('y2', y(scanDepthBottom))
    .attr('stroke', '#777').attr('stroke-width', 0.8);

  g.append('rect')
    .attr('x', opt.left).attr('y', opt.top)
    .attr('width', opt.right - opt.left).attr('height', opt.bottom - opt.top)
    .attr('fill', 'none').attr('stroke', '#000').attr('stroke-width', 1.4);

  opt.labels.forEach(function(d) {
    var lab = g.append('g');
    var text = lab.append('text')
      .attr('x', x(d[1])).attr('y', y(d[2]))
      .attr('dy', '0.36em').attr('text-anchor', 'middle')
      .style('font', '14px ' + sansFont)
      .text(d[0].replace('-', '\u2212'));
    var box = text.node().getBBox();
    lab.insert('rect', 'text')
      .attr('x', box.x - 1).attr('y', box.y + 2)
      .attr('width', box.width + 2).attr('height', box.height - 3)
      .attr('fill', '#fff');
  });

  var xAxis = d3.axisBottom(x).tickValues(latTicks).tickFormat(latLabel).tickSize(3).tickSizeOuter(0);
  var yAxis = d3.axisLeft(y).tickValues(depthTicks).tickFormat(d3.format('d')).tickSize(4).tickSizeOuter(0);
  var axX = g.append('g').attr('transform', 'translate(0,' + opt.bottom + ')').call(xAxis);
  var axY = g.append('g').attr('transform', 'translate(' + opt.left + ',0)').call(yAxis);
  [axX, axY].forEach(function(ax) {
    ax.select('.domain').remove();
    ax.selectAll('text').style('font', 'bold 12.5px ' + sansFont).attr('fill', '#000').call(stretch, 0.8);
    ax.selectAll('line').attr('stroke', '#000');
  });
  axX.selectAll('text').attr('dy', '0.8em');

  g.append('text')
    .attr('x', opt.titleX).attr('y', opt.titleY)
    .attr('textLength', opt.titleW).attr('lengthAdjust', 'spacing')
    .style('font', '300 28px Roboto, sans-serif').attr('fill', '#111')
    .text(opt.title);
}

function drawPc(opt) {
  var x = d3.scaleLinear().domain([0, 1000]).range([opt.left, opt.right]);
  var y = d3.scaleLinear().domain(opt.yDomain).range([opt.bottom, opt.top]);
  var g = svg.append('g');
  var line = d3.line().x(function(d) { return x(d[0]); }).y(function(d) { return y(d[1]); }).curve(d3.curveCatmullRom.alpha(0.5));

  var xMajor = d3.range(0, 1001, 100);
  var xMinor = d3.range(50, 1000, 100);
  var yMinor = d3.range(opt.yDomain[0], opt.yDomain[1] + 1, 10000).filter(function(d) { return opt.yTicks.indexOf(d) < 0; });

  function decorate(ax) {
    ax.select('.domain').remove();
    ax.selectAll('line').attr('stroke', '#111');
  }
  // major and minor ticks point into the box on all four sides
  g.append('g').attr('transform', 'translate(0,' + opt.bottom + ')')
    .call(d3.axisBottom(x).tickValues(xMajor).tickFormat(d3.format('d')).tickSize(-7).tickSizeOuter(0).tickPadding(9)).call(decorate)
    .selectAll('text').style('font', '12px ' + serifFont).attr('fill', '#111').call(stretch, 1.18);
  g.append('g').attr('transform', 'translate(0,' + opt.bottom + ')')
    .call(d3.axisBottom(x).tickValues(xMinor).tickSize(-4).tickSizeOuter(0).tickFormat('')).call(decorate);
  g.append('g').attr('transform', 'translate(0,' + opt.top + ')')
    .call(d3.axisTop(x).tickValues(xMajor).tickSize(-7).tickSizeOuter(0).tickFormat('')).call(decorate);
  g.append('g').attr('transform', 'translate(0,' + opt.top + ')')
    .call(d3.axisTop(x).tickValues(xMinor).tickSize(-4).tickSizeOuter(0).tickFormat('')).call(decorate);
  g.append('g').attr('transform', 'translate(' + opt.left + ',0)')
    .call(d3.axisLeft(y).tickValues(opt.yTicks).tickSize(-10).tickSizeOuter(0).tickPadding(5).tickFormat(d3.format('d'))).call(decorate)
    .selectAll('text').style('font', '12px ' + serifFont).attr('fill', '#111').attr('x', -5).call(stretch, 1.18);
  g.append('g').attr('transform', 'translate(' + opt.left + ',0)')
    .call(d3.axisLeft(y).tickValues(yMinor).tickSize(-5).tickSizeOuter(0).tickFormat('')).call(decorate);
  g.append('g').attr('transform', 'translate(' + opt.right + ',0)')
    .call(d3.axisRight(y).tickValues(opt.yTicks).tickSize(-10).tickSizeOuter(0).tickFormat('')).call(decorate);
  g.append('g').attr('transform', 'translate(' + opt.right + ',0)')
    .call(d3.axisRight(y).tickValues(yMinor).tickSize(-5).tickSizeOuter(0).tickFormat('')).call(decorate);

  g.append('rect')
    .attr('x', opt.left).attr('y', opt.top)
    .attr('width', opt.right - opt.left).attr('height', opt.bottom - opt.top)
    .attr('fill', 'none').attr('stroke', '#111').attr('stroke-width', 1.3);

  g.append('path').datum(opt.values).attr('d', line)
    .attr('fill', 'none').attr('stroke', '#111').attr('stroke-width', 1.1);

  g.append('text').attr('x', opt.titleX).attr('y', opt.titleY).attr('text-anchor', 'middle')
    .attr('textLength', 82).attr('lengthAdjust', 'spacingAndGlyphs')
    .style('font', '12.5px ' + sansFont).attr('fill', '#333')
    .text(opt.title);

  g.append('ellipse').attr('cx', opt.markX).attr('cy', opt.markY).attr('rx', 16).attr('ry', 16)
    .attr('fill', 'none').attr('stroke', '#222').attr('stroke-width', 0.8);
  g.append('text').attr('x', opt.markX).attr('y', opt.markY).attr('dy', '0.36em').attr('text-anchor', 'middle')
    .style('font', '28px ' + serifFont).attr('fill', '#222')
    .text(opt.mark);
}

drawSection({ title: 'EOF1, Indian ocean (50/100E)', titleX: 114, titleY: 34, titleW: 422, left: 48.6, right: 601, top: 47.7, bottom: 384.7, floor: indianFloor, pos: indianEof1Pos, neg: indianEof1Neg, labels: indianEof1Labels });
drawSection({ title: 'EOF2, Indian ocean (50/100E)', titleX: 819.5, titleY: 34, titleW: 423, left: 752.5, right: 1309.6, top: 47.7, bottom: 388.3, floor: indianFloor, pos: indianEof2Pos, neg: indianEof2Neg, labels: indianEof2Labels });
drawSection({ title: 'EOF1, Pacific ocean (120E/100W)', titleX: 98.6, titleY: 450, titleW: 469, left: 56, right: 610, top: 463.3, bottom: 800.7, floor: pacificFloor, pos: pacificEof1Pos, neg: pacificEof1Neg, labels: pacificEof1Labels });
drawSection({ title: 'EOF2, Pacific ocean (120E/100W)', titleX: 795, titleY: 447, titleW: 473, left: 752.5, right: 1309.6, top: 461.7, bottom: 800, floor: pacificFloor, pos: pacificEof2Pos, neg: pacificEof2Neg, labels: pacificEof2Labels });
drawSection({ title: 'EOF1, Atlantic ocean (60W/10E)', titleX: 108.8, titleY: 866, titleW: 442, left: 53, right: 606, top: 880, bottom: 1217, floor: atlanticFloor, pos: atlanticEof1Pos, neg: atlanticEof1Neg, labels: atlanticEof1Labels });
drawSection({ title: 'EOF2, Atlantic ocean (60W/10E)', titleX: 807, titleY: 864, titleW: 448, left: 751, right: 1310.6, top: 878, bottom: 1218, floor: atlanticFloor, pos: atlanticEof2Pos, neg: atlanticEof2Neg, labels: atlanticEof2Labels });

drawPc({ title: 'PC1 (76%)', titleX: 340, titleY: 1272, left: 54, right: 606, top: 1279, bottom: 1539, yDomain: [-30000, 70000], yTicks: [-20000, 0, 20000, 40000, 60000], values: pc1Values, mark: '3', markX: 22, markY: 1577 });
drawPc({ title: 'PC2 (13%)', titleX: 1042, titleY: 1269, left: 754, right: 1312.6, top: 1277, bottom: 1541, yDomain: [-20000, 30000], yTicks: [-20000, -10000, 0, 10000, 20000, 30000], values: pc2Values, mark: '4', markX: 724, markY: 1578 });
</script>
</body>
</html>
